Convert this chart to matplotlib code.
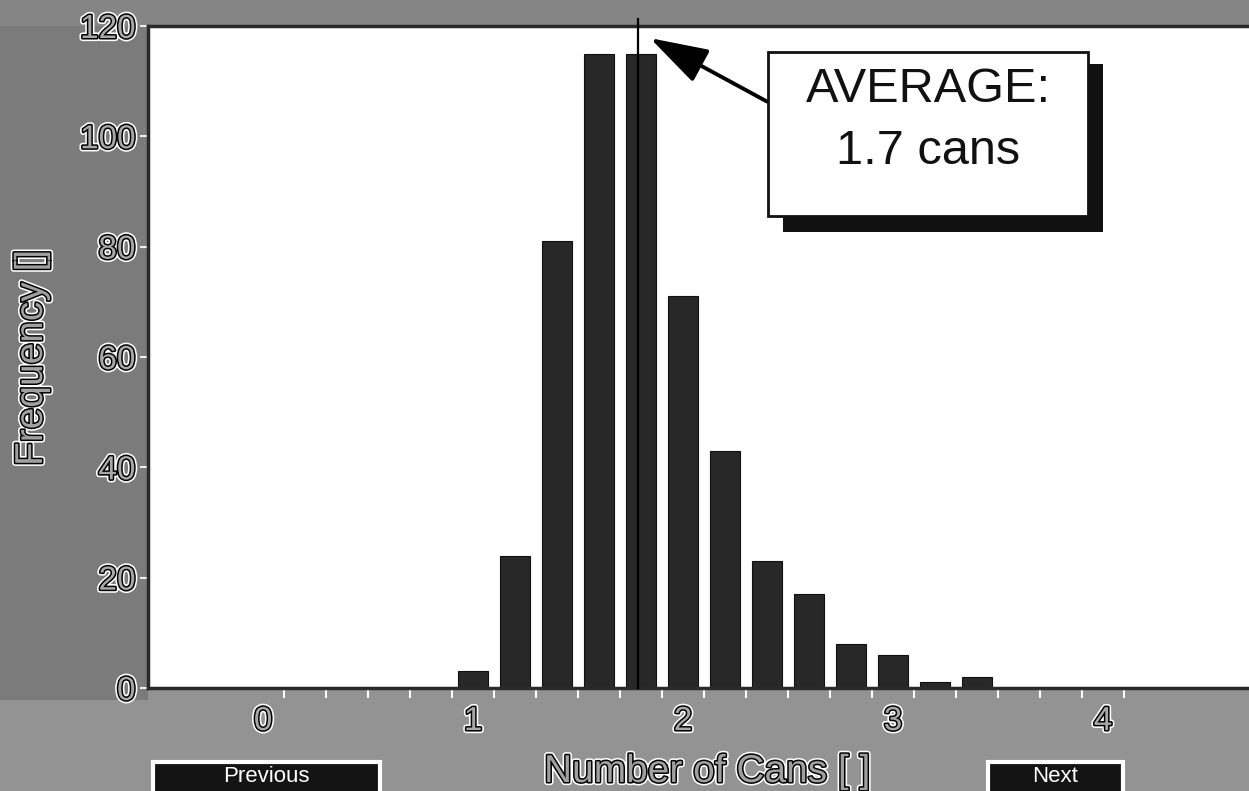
import matplotlib
matplotlib.use("Agg")
import matplotlib.pyplot as plt
import matplotlib.patches as mpatches
import matplotlib.patheffects as pe
import numpy as np

# ---------------- data ----------------
bin_centers = [1.0, 1.2, 1.4, 1.6, 1.8, 2.0, 2.2, 2.4, 2.6, 2.8, 3.0, 3.2, 3.4]
frequencies = [3, 24, 81, 115, 115, 71, 43, 23, 17, 8, 6, 1, 2]
x_tick_values = [0, 1, 2, 3, 4]
x_tick_labels = ["0", "1", "2", "3", "4"]
y_tick_values = [0, 20, 40, 60, 80, 100, 120]
y_tick_labels = ["0", "20", "40", "60", "80", "100", "120"]
bin_edge_ticks = [0.1, 0.3, 0.5, 0.7, 0.9, 1.1, 1.3, 1.5, 1.7, 1.9, 2.1,
                  2.3, 2.5, 2.7, 2.9, 3.1, 3.3, 3.5, 3.7, 3.9, 4.1]
average_position = 1.786
average_title = "AVERAGE:"
average_label = "1.7 cans"
x_label = "Number of Cans [ ]"
y_label = "Frequency []"
button_left = "Previous"
button_right = "Next"

W, H = 1249, 791
NARROW = ["Liberation Sans Narrow", "Liberation Sans", "DejaVu Sans"]
SANS = ["Liberation Sans", "DejaVu Sans"]


def fx(x):
    return x / W


def fy(y):
    return 1 - y / H


fig = plt.figure(figsize=(W / 100, H / 100), dpi=100, facecolor="#939393")

# darker left margin (halftone look)
fig.add_artist(mpatches.Rectangle((0, fy(700)), fx(148), 1 - fy(700),
                                  transform=fig.transFigure, facecolor="#7b7b7b",
                                  edgecolor="none", zorder=0))
fig.add_artist(mpatches.Rectangle((0, fy(26)), 1, 1 - fy(26),
                                  transform=fig.transFigure, facecolor="#858585",
                                  edgecolor="none", zorder=0))

ax = fig.add_axes([fx(148), fy(688), fx(1249 - 148), (688 - 26) / H])
ax.set_facecolor("white")
ax.set_xlim(-0.548, 4.695)
ax.set_ylim(0, 120)

ax.bar(bin_centers, frequencies, width=0.145, color="#282828",
       edgecolor="#111111", linewidth=0.8, zorder=2)

ax.axvline(average_position, ymin=0, ymax=1.01, color="black", lw=1.6,
           clip_on=False, zorder=3)

for s in ["top", "left", "bottom"]:
    ax.spines[s].set_color("#2a2a2a")
    ax.spines[s].set_linewidth(2.5)
ax.spines["right"].set_visible(False)

halo = [pe.Stroke(linewidth=4.5, foreground="white"),
        pe.Stroke(linewidth=2.2, foreground="black"), pe.Normal()]

ax.set_yticks(y_tick_values)
ax.set_yticklabels(y_tick_labels)
ax.set_xticks(x_tick_values)
ax.set_xticklabels(x_tick_labels)
ax.set_xticks(bin_edge_ticks, minor=True)
ax.tick_params(axis="y", direction="out", length=6, width=1.5, color="#eeeeee",
               pad=3, labelsize=24)
ax.tick_params(axis="x", which="major", length=0, pad=13, labelsize=24)
ax.tick_params(axis="x", which="minor", direction="out", length=7, width=1.5,
               color="white")
for lab in ax.get_yticklabels() + ax.get_xticklabels():
    lab.set_family(NARROW)
    lab.set_color("#a8a8a8")
    lab.set_path_effects(halo)

fig.text(fx(707), fy(772), x_label, ha="center", va="center", fontsize=28,
         family=NARROW, color="#a0a0a0", path_effects=halo)
fig.text(fx(32), fy(358), y_label, ha="center", va="center", rotation=90,
         fontsize=28, family=NARROW, color="#a0a0a0", path_effects=halo)

# arrow to average line
ax.annotate("", xy=(1.843, 117.8), xytext=(2.40, 106.3),
            arrowprops=dict(arrowstyle="-|>,head_length=0.8,head_width=0.25",
                            mutation_scale=45, color="black", lw=2.8,
                            shrinkA=0, shrinkB=0), zorder=4)

# annotation box with shadow
fig.add_artist(mpatches.Rectangle((fx(783), fy(232)), fx(1103 - 783), (232 - 64) / H,
                                  transform=fig.transFigure, facecolor="#111111",
                                  edgecolor="none", zorder=5))
fig.add_artist(mpatches.Rectangle((fx(768), fy(216)), fx(1088 - 768), (216 - 52) / H,
                                  transform=fig.transFigure, facecolor="white",
                                  edgecolor="#111111", linewidth=2, zorder=6))
fig.text(fx(928), fy(90), average_title, ha="center", va="center", fontsize=35,
         family=SANS, color="#111111", zorder=7)
fig.text(fx(928), fy(152), average_label, ha="center", va="center", fontsize=35,
         family=SANS, color="#111111", zorder=7)

# navigation buttons (at the bottom edge)
for (x0, x1, lbl) in [(153, 380, button_left), (988, 1123, button_right)]:
    fig.add_artist(mpatches.Rectangle((fx(x0), fy(800)), fx(x1 - x0), (800 - 762) / H,
                                      transform=fig.transFigure, facecolor="#141414",
                                      edgecolor="white", linewidth=3, zorder=5))
    fig.text(fx((x0 + x1) / 2), fy(777), lbl, ha="center", va="center", fontsize=16,
             family=SANS, color="white", zorder=6)

fig.savefig("out.png", dpi=100, facecolor=fig.get_facecolor())
